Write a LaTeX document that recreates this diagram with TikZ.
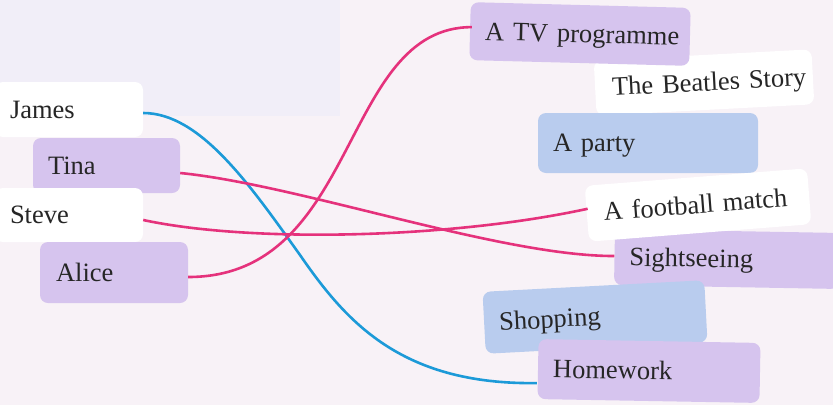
\documentclass[tikz,border=0pt]{standalone}
\usepackage{fontspec}
\setmainfont{Liberation Serif}
\usetikzlibrary{calc}
\definecolor{bg}{HTML}{F8F2F7}
\definecolor{bglil}{HTML}{F1EEF8}
\definecolor{lil}{HTML}{D6C4EE}
\definecolor{sky}{HTML}{B9CCEE}
\definecolor{pinkline}{HTML}{E5327C}
\definecolor{blueline}{HTML}{1C9AD8}
\definecolor{ink}{HTML}{262626}
\begin{document}
\begin{tikzpicture}[x=1pt,y=-1pt,
  card/.style={rounded corners=8pt, inner xsep=15pt, inner ysep=0pt, text=ink,
    font=\fontsize{26.5}{30}\selectfont, align=left, text height=17pt, text depth=0pt},
  whitecard/.style={card, fill=white},
  lilcard/.style={card, fill=lil},
  skycard/.style={card, fill=sky},
  pinklink/.style={draw=pinkline, line width=2.6pt},
  bluelink/.style={draw=blueline, line width=2.6pt}]
\useasboundingbox (0,0) rectangle (833,405);
\fill[bg] (0,0) rectangle (833,405);
\fill[bglil] (0,0) rectangle (340,116);
% left column
\node[whitecard, minimum width=148pt, minimum height=55pt, text width=118pt] (james) at (69,109.5) {James};
\node[lilcard, minimum width=147pt, minimum height=55pt, text width=117pt] (tina) at (106.5,165.5) {Tina};
\node[whitecard, minimum width=148pt, minimum height=54pt, text width=118pt] (steve) at (69,215) {Steve};
\node[lilcard, minimum width=148pt, minimum height=61pt, text width=116pt, inner xsep=16pt] (alice) at (114,272.5) {Alice};
% right column
\node[whitecard, minimum width=218pt, minimum height=55pt, text width=184pt, inner xsep=17pt, rotate=3] (beatles) at (704,82.5) {\mbox{The Beatles Story}};
\node[lilcard, minimum width=220pt, minimum height=58pt, text width=190pt, rotate=-1.5] (tv) at (580,34) {\mbox{A TV programme}};
\node[skycard, minimum width=220pt, minimum height=60pt, text width=190pt] (party) at (648,143) {A party};
\node[lilcard, minimum width=225pt, minimum height=56pt, text width=195pt, rotate=-1] (sight) at (727,259) {Sightseeing};
\node[whitecard, minimum width=223pt, minimum height=56pt, text width=189pt, inner xsep=17pt, rotate=4.5] (football) at (698,205) {\mbox{A football match}};
\node[skycard, minimum width=222pt, minimum height=62pt, text width=192pt, rotate=3] (shopping) at (595,317) {Shopping};
\node[lilcard, minimum width=222pt, minimum height=60pt, text width=192pt, rotate=-1] (homework) at (649,371) {Homework};
% connectors
\coordinate (jmid) at (300,255);
\draw[bluelink] ($(james.east)+(0,3.5)$) .. controls +(57,0) and +(-50,-70) .. (jmid)
  .. controls +(45,65) and +(-137,2) .. ($(homework.west)+(-1,14)$);
\draw[pinklink] ($(tina.east)+(0,7.5)$) .. controls +(120,12) and +(-115,0) .. ($(sight.west)+(0,-1)$);
\draw[pinklink] ($(steve.east)+(0,5)$) .. controls +(107,23) and +(-138,30) .. ($(football.west)+(1,-5)$);
\draw[pinklink] ($(alice.east)+(0,4.5)$) .. controls +(172,0) and +(-132,0) .. ($(tv.west)+(2,-4)$);
\end{tikzpicture}
\end{document}
